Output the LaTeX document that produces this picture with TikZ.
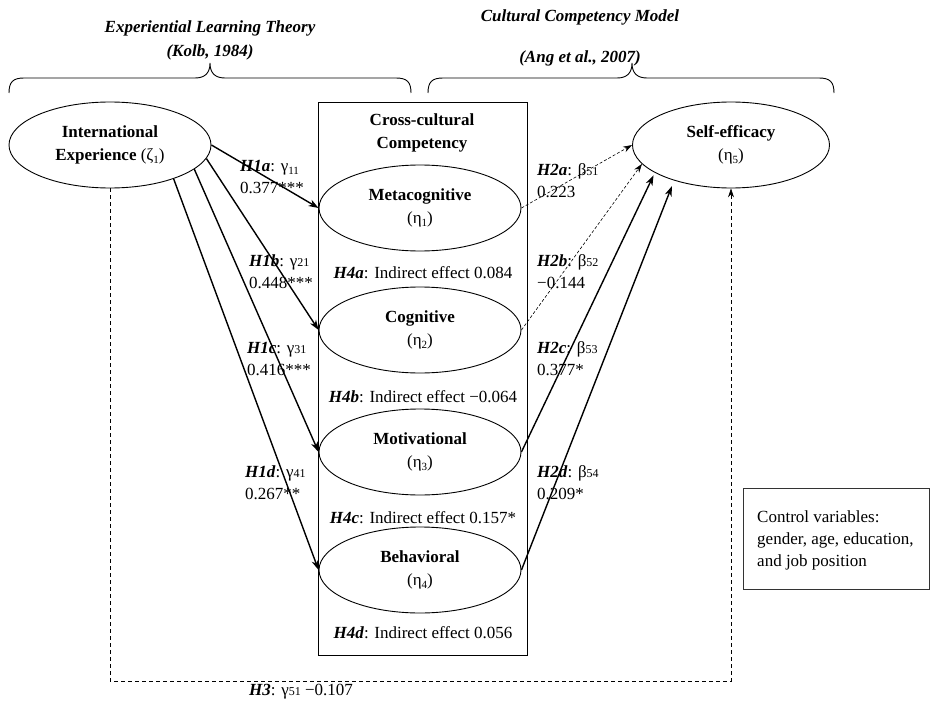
\documentclass[tikz,border=0pt]{standalone}
\usepackage{fontspec}
\setmainfont{Liberation Serif}
\usetikzlibrary{shapes.geometric,arrows.meta}
\newcommand{\hl}[1]{\textbf{\textit{#1}}}
\newcommand{\lsub}[1]{\raisebox{-0.35ex}{\fontsize{11}{11}\selectfont #1}}
\newcommand{\ssub}[1]{{\fontsize{12}{12}\selectfont #1}}
\begin{document}
\begin{tikzpicture}[x=1pt,y=-1pt,
  every node/.style={font=\fontsize{17}{22}\selectfont, inner sep=0pt},
  lat/.style={draw, ellipse, line width=0.9pt, minimum width=202pt, minimum height=86pt, align=center, font=\fontsize{17}{23}\selectfont},
  lbl/.style={anchor=west, align=left},
  ttl/.style={font=\fontsize{17}{22}\selectfont\bfseries\itshape},
  brace/.style={line width=0.9pt},
  pathsolid/.style={line width=1.4pt, -{Stealth[length=10pt,width=7pt,inset=3pt]}},
  pathdash/.style={line width=0.6pt, dash pattern=on 3pt off 2pt, -{Stealth[length=9pt,width=6pt,inset=3pt]}},
  pathctrl/.style={line width=0.7pt, dash pattern=on 4pt off 3pt, -{Stealth[length=9pt,width=6pt,inset=3pt]}}]
\useasboundingbox (0,0) rectangle (930,701);

% titles and braces
\node[ttl] (t1) at (210,28) {Experiential Learning Theory};
\node[ttl] (t2) at (210,52) {(Kolb, 1984)};
\node[ttl] (t3) at (580,17) {Cultural Competency Model};
\node[ttl] (t4) at (580,58) {(Ang et al., 2007)};
\draw[brace] (9,93) .. controls (9,82) and (13,78) .. (24,78) -- (195,78) .. controls (205,78) and (210,73) .. (210,63) .. controls (210,73) and (215,78) .. (225,78) -- (396,78) .. controls (407,78) and (411,82) .. (411,93);
\draw[brace] (428,93) .. controls (428,82) and (432,78) .. (443,78) -- (617,78) .. controls (627,78) and (632,73) .. (632,63) .. controls (632,73) and (637,78) .. (647,78) -- (819,78) .. controls (830,78) and (834,82) .. (834,93);

% central box
\node[draw, line width=0.9pt, minimum width=209pt, minimum height=553pt] (box) at (422.5,378.5) {};
\node[align=center, font=\fontsize{17}{23}\selectfont\bfseries] (cc) at (422,133) {Cross-cultural\\Competency};

% latent variables
\node[lat] (ie) at (110,145) {\textbf{International}\\\textbf{Experience} (ζ\lsub{1})};
\node[lat, minimum width=197pt] (se) at (731,145) {\textbf{Self-efficacy}\\(η\lsub{5})};
\node[lat] (meta) at (420,208) {\textbf{Metacognitive}\\(η\lsub{1})};
\node[lat] (cog) at (420,330) {\textbf{Cognitive}\\(η\lsub{2})};
\node[lat] (mot) at (420,452) {\textbf{Motivational}\\(η\lsub{3})};
\node[lat] (beh) at (420,570) {\textbf{Behavioral}\\(η\lsub{4})};

% indirect effects
\node (h4a) at (423,273) {\hl{H4a}: Indirect effect 0.084};
\node (h4b) at (423,397) {\hl{H4b}: Indirect effect −0.064};
\node (h4c) at (423,518) {\hl{H4c}: Indirect effect 0.157*};
\node (h4d) at (423,633) {\hl{H4d}: Indirect effect 0.056};

% paths H1
\draw[pathsolid] (ie.east) -- (meta.west);
\draw[pathsolid] (ie.-8) -- (cog.west);
\draw[pathsolid] (ie.-16) -- (mot.west);
\draw[pathsolid] (ie.-28) -- (beh.west);

% paths H2
\draw[pathdash] (meta.east) -- (se.west);
\draw[pathdash] (cog.east) -- (se.192);
\draw[pathsolid, shorten >=3pt] (mot.east) -- (se.200);
\draw[pathsolid, shorten >=6pt] (beh.east) -- (se.212);

% H3 path
\coordinate (bl) at (110,681);
\coordinate (br) at (731,681);
\draw[pathctrl] (ie.south) -- (bl) -- (br) -- (se.south);
\node[anchor=west] (h3) at (249,692) {\hl{H3}: γ\ssub{51} −0.107};

% path labels
\node[lbl] (l1a) at (240,177) {\hl{H1a}: γ\lsub{11}\\0.377***};
\node[lbl] (l1b) at (249,272) {\hl{H1b}: γ\ssub{21}\\0.448***};
\node[lbl] (l1c) at (247,359) {\hl{H1c}: γ\ssub{31}\\0.416***};
\node[lbl] (l1d) at (245,483) {\hl{H1d}: γ\ssub{41}\\0.267**};
\node[lbl] (l2a) at (537,181) {\hl{H2a}: β\ssub{51}\\0.223};
\node[lbl] (l2b) at (537,272) {\hl{H2b}: β\ssub{52}\\−0.144};
\node[lbl] (l2c) at (537,359) {\hl{H2c}: β\ssub{53}\\0.377*};
\node[lbl] (l2d) at (537,483) {\hl{H2d}: β\ssub{54}\\0.209*};

% control variables
\node[draw=black!80, line width=1pt, minimum width=186pt, minimum height=101pt, anchor=north west] (ctrl) at (743,488) {};
\node[anchor=west, align=left] (ctrltext) at (757,540) {Control variables:\\gender, age, education,\\and job position};
\end{tikzpicture}
\end{document}
